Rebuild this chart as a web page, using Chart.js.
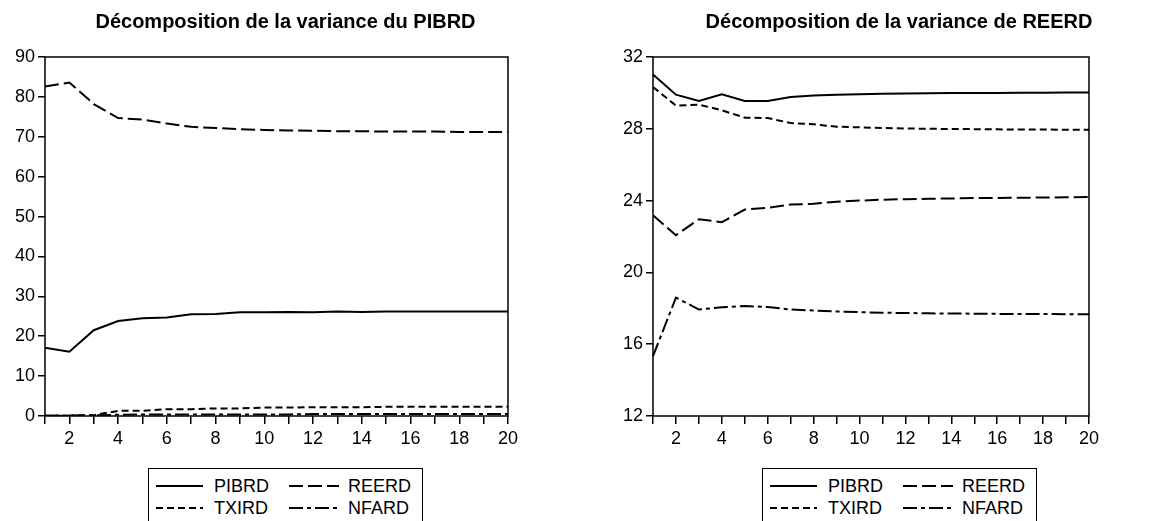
<!DOCTYPE html>
<html>
<head>
<meta charset="utf-8">
<script src="https://cdn.jsdelivr.net/npm/chart.js@4.4.1/dist/chart.umd.min.js"></script>
<style>
  html, body { margin: 0; padding: 0; background: #fff; overflow: hidden; }
  body { width: 1154px; height: 521px; position: relative; }
  canvas { position: absolute; top: 0; }
  .legend {
    position: absolute; top: 468px; width: 275px; height: 80px;
    border: 1px solid #000; box-sizing: border-box;
    font: 18px "Liberation Sans", Arial, sans-serif; color: #000;
  }
  .legend svg { position: absolute; }
  .legend span { position: absolute; line-height: 22px; white-space: nowrap; }
</style>
</head>
<body>
<canvas id="chartPib" width="571" height="460" style="left:0px"></canvas>
<canvas id="chartReer" width="598" height="460" style="left:600px"></canvas>
<div class="legend" id="legPib" style="left:148px"></div>
<div class="legend" id="legReer" style="left:762px"></div>
<script>
const periods = ['1','2','3','4','5','6','7','8','9','10','11','12','13','14','15','16','17','18','19','20'];
const xTickLabels = ['', '2', '', '4', '', '6', '', '8', '', '10', '', '12', '', '14', '', '16', '', '18', '', '20'];
const seriesNames = ['PIBRD', 'REERD', 'TXIRD', 'NFARD'];

// Décomposition de la variance du PIBRD
const pibPIBRD = [17.1, 16.1, 21.5, 23.8, 24.5, 24.7, 25.5, 25.6, 26.0, 26.0, 26.1, 26.0, 26.2, 26.1, 26.2, 26.2, 26.2, 26.2, 26.2, 26.2];
const pibREERD = [82.6, 83.6, 78.2, 74.7, 74.3, 73.3, 72.5, 72.2, 71.9, 71.7, 71.6, 71.5, 71.4, 71.4, 71.3, 71.3, 71.3, 71.2, 71.2, 71.2];
const pibTXIRD = [0.0, 0.1, 0.2, 1.3, 1.3, 1.7, 1.7, 1.9, 1.9, 2.1, 2.1, 2.2, 2.2, 2.2, 2.3, 2.3, 2.3, 2.3, 2.3, 2.3];
const pibNFARD = [0.1, 0.1, 0.2, 0.3, 0.4, 0.4, 0.4, 0.4, 0.4, 0.4, 0.4, 0.5, 0.5, 0.5, 0.5, 0.5, 0.5, 0.5, 0.5, 0.5];

// Décomposition de la variance de REERD
const reerPIBRD = [31.02, 29.9, 29.55, 29.92, 29.55, 29.55, 29.77, 29.85, 29.9, 29.93, 29.95, 29.97, 29.98, 29.99, 30.0, 30.0, 30.01, 30.01, 30.02, 30.02];
const reerREERD = [23.18, 22.07, 22.96, 22.8, 23.5, 23.6, 23.78, 23.82, 23.94, 24.0, 24.05, 24.08, 24.1, 24.12, 24.14, 24.15, 24.16, 24.17, 24.18, 24.2];
const reerTXIRD = [30.33, 29.29, 29.35, 29.03, 28.62, 28.6, 28.32, 28.25, 28.12, 28.08, 28.05, 28.02, 28.0, 27.99, 27.98, 27.97, 27.96, 27.96, 27.95, 27.95];
const reerNFARD = [15.33, 18.6, 17.93, 18.06, 18.13, 18.07, 17.93, 17.88, 17.82, 17.79, 17.75, 17.74, 17.72, 17.71, 17.7, 17.69, 17.68, 17.68, 17.67, 17.67];

const FONT = '"Liberation Sans", Arial, sans-serif';
const dashes = { PIBRD: [], REERD: [14, 5], TXIRD: [7, 4], NFARD: [14, 4, 4, 4] };

// box around the plot area, like the eviews frame
const framePlugin = {
    id: 'frame',
    afterDatasetsDraw(chart) {
        const a = chart.chartArea;
        const ctx = chart.ctx;
        ctx.save();
        ctx.strokeStyle = '#000';
        ctx.lineWidth = 1.5;
        ctx.strokeRect(a.left, a.top, a.right - a.left, a.bottom - a.top);
        ctx.restore();
    }
};

function makeChart(id, title, values, yMin, yMax, yStep, geom) {
    const datasets = seriesNames.map((name, i) => ({
        label: name,
        data: values[i],
        borderColor: '#000',
        borderWidth: 2,
        borderDash: dashes[name],
        pointRadius: 0,
        tension: 0,
        fill: false
    }));

    return new Chart(document.getElementById(id), {
        type: 'line',
        data: { labels: periods, datasets: datasets },
        options: {
            responsive: false,
            animation: false,
            layout: { padding: 0 },
            plugins: {
                legend: { display: false },
                tooltip: { enabled: false },
                title: {
                    display: true,
                    text: title,
                    color: '#000',
                    font: { family: FONT, size: 20, weight: 'bold' },
                    padding: { top: 10, bottom: 23 }
                }
            },
            scales: {
                x: {
                    offset: false,
                    border: { display: false },
                    grid: { drawOnChartArea: false, drawTicks: true, tickLength: 8, color: '#000', lineWidth: 1.5 },
                    ticks: {
                        autoSkip: false, maxRotation: 0, padding: 4, color: '#000',
                        font: { family: FONT, size: 18 },
                        callback: (v, i) => xTickLabels[i]
                    },
                    afterFit(s) { s.height = 44; }
                },
                y: {
                    min: yMin, max: yMax,
                    border: { display: false },
                    grid: { drawOnChartArea: false, drawTicks: true, tickLength: 7, color: '#000', lineWidth: 1.5 },
                    ticks: { stepSize: yStep, padding: 3, color: '#000', font: { family: FONT, size: 18 } },
                    afterFit(s) { s.width = geom.yWidth; }
                },
                yr: {
                    position: 'right',
                    border: { display: false },
                    grid: { display: false },
                    ticks: { display: false },
                    afterFit(s) { s.width = geom.rightWidth; }
                }
            }
        },
        plugins: [framePlugin]
    });
}

makeChart('chartPib', 'Décomposition de la variance du PIBRD',
    [pibPIBRD, pibREERD, pibTXIRD, pibNFARD], 0, 90, 10,
    { yWidth: 45, rightWidth: 63 });

makeChart('chartReer', 'Décomposition de la variance de REERD',
    [reerPIBRD, reerREERD, reerTXIRD, reerNFARD], 12, 32, 4,
    { yWidth: 53, rightWidth: 109 });

function buildLegend(id) {
    const box = document.getElementById(id);
    seriesNames.forEach((name, i) => {
        const col = i % 2, row = Math.floor(i / 2);
        const cy = 17 + row * 21.7;
        const svg = document.createElementNS('http://www.w3.org/2000/svg', 'svg');
        svg.setAttribute('width', '52');
        svg.setAttribute('height', '6');
        svg.style.left = (7 + col * 133) + 'px';
        svg.style.top = (cy - 3) + 'px';
        const line = document.createElementNS('http://www.w3.org/2000/svg', 'line');
        line.setAttribute('x1', '0'); line.setAttribute('x2', col ? '50' : '47');
        line.setAttribute('y1', '3'); line.setAttribute('y2', '3');
        line.setAttribute('stroke', '#000');
        line.setAttribute('stroke-width', '2');
        if (dashes[name].length) line.setAttribute('stroke-dasharray', dashes[name].join(' '));
        svg.appendChild(line);
        box.appendChild(svg);
        const label = document.createElement('span');
        label.textContent = name;
        label.style.left = (65 + col * 134) + 'px';
        label.style.top = (cy - 11) + 'px';
        box.appendChild(label);
    });
}
buildLegend('legPib');
buildLegend('legReer');
</script>
</body>
</html>
